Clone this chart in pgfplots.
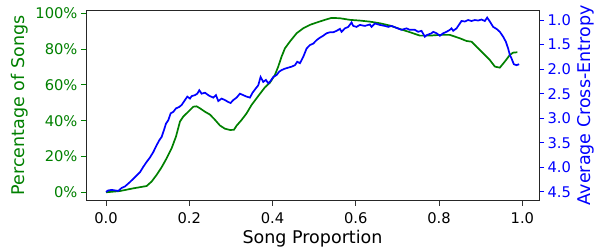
\documentclass[border=0pt]{standalone}
\usepackage{fontspec}
\setmainfont{DejaVu Sans}
\usepackage{pgfplots}
\pgfplotsset{compat=1.18}
\definecolor{mplgreen}{rgb}{0,0.5,0}
\definecolor{mplblue}{rgb}{0,0,1}
\begin{document}
\begin{tikzpicture}
\path[use as bounding box] (-86pt,-46.3pt) rectangle (509pt,200.7pt);
\begin{axis}[
  at={(0pt,0pt)}, anchor=south west,
  scale only axis, width=453pt, height=190.7pt,
  xmin=-0.048, xmax=1.04, ymin=-4.7, ymax=101.8,
  xtick={0,0.2,0.4,0.6,0.8,1.0},
  xticklabels={0.0,0.2,0.4,0.6,0.8,1.0},
  ytick={0,20,40,60,80,100},
  yticklabels={0\%,20\%,40\%,60\%,80\%,100\%},
  xtick pos=left, ytick pos=left,
  tick align=outside, major tick length=5pt,
  ytick style={color=mplgreen, line width=0.9pt},
  xtick style={color=black!80, line width=0.9pt},
  axis line style={black!85, line width=0.9pt},
  tick label style={font=\fontsize{14.7}{17}\selectfont},
  xticklabel style={yshift=-3pt},
  yticklabel style={color=mplgreen},
  xlabel={Song Proportion},
  ylabel={Percentage of Songs},
  label style={font=\fontsize{17.5}{21}\selectfont},
  ylabel style={color=mplgreen},
]
\addplot[mplgreen, line width=1.7pt] coordinates {
(0,0.0) (0.0336,0.7) (0.0656,2.2) (0.0976,3.5) (0.1096,6.0) (0.1216,9.7)
(0.1337,14.0) (0.1457,19.0) (0.1577,24.6) (0.1681,31.1) (0.1777,39.5)
(0.1857,42.3) (0.1977,45.0) (0.2097,47.8) (0.2177,48.0) (0.2257,46.9)
(0.2377,45.0) (0.2497,43.4) (0.2617,40.5) (0.2737,37.3) (0.2857,35.5)
(0.2977,34.8) (0.3073,34.9) (0.3137,37.2) (0.3257,40.4) (0.3377,44.1)
(0.3497,48.8) (0.3617,52.5) (0.3737,56.2) (0.3817,58.6) (0.3937,61.2)
(0.4057,65.5) (0.4137,70.2) (0.4218,75.8) (0.4298,80.4) (0.4418,84.2)
(0.4578,88.8) (0.4738,91.6) (0.4898,93.5) (0.5058,94.8) (0.5258,96.3)
(0.5418,97.4) (0.5618,97.2) (0.5858,96.3) (0.6098,95.9) (0.6338,95.3)
(0.6578,94.4) (0.6819,93.1) (0.7059,91.2) (0.7299,89.4) (0.7539,87.5)
(0.7779,87.5) (0.8019,87.9) (0.8259,87.9) (0.8499,86.0) (0.8659,84.5)
(0.8779,84.1) (0.8899,81.3) (0.9059,77.6) (0.9219,73.9) (0.9339,70.2)
(0.9459,69.6) (0.9579,73.0) (0.9699,76.7) (0.9779,78.0) (0.9880,78.2)
};
\end{axis}
\begin{axis}[
  at={(0pt,0pt)}, anchor=south west,
  scale only axis, width=453pt, height=190.7pt,
  xmin=-0.048, xmax=1.04, ymin=0.796, ymax=4.68,
  y dir=reverse,
  axis x line=none, axis y line*=right,
  ytick={1.0,1.5,2.0,2.5,3.0,3.5,4.0,4.5},
  yticklabels={1.0,1.5,2.0,2.5,3.0,3.5,4.0,4.5},
  ytick pos=right,
  tick align=outside, major tick length=5pt,
  ytick style={color=mplblue, line width=0.9pt},
  axis line style={black!85, line width=0.9pt},
  tick label style={font=\fontsize{14.7}{17}\selectfont},
  yticklabel style={color=mplblue},
  ylabel={Average Cross-Entropy},
  label style={font=\fontsize{17.5}{21}\selectfont},
  ylabel style={color=mplblue},
]
\addplot[mplblue, line width=1.7pt] coordinates {
(0,4.50) (0.0056,4.47) (0.0136,4.46) (0.0216,4.47) (0.0296,4.48) (0.0376,4.42)
(0.0456,4.39) (0.0576,4.30) (0.0696,4.20) (0.0816,4.10) (0.0896,3.99)
(0.0976,3.89) (0.1056,3.80) (0.1136,3.69) (0.1216,3.55) (0.1280,3.45)
(0.1337,3.38) (0.1393,3.24) (0.1441,3.11) (0.1497,3.04) (0.1553,2.90)
(0.1617,2.87) (0.1681,2.80) (0.1761,2.77) (0.1817,2.73) (0.1897,2.63)
(0.1953,2.56) (0.2017,2.60) (0.2057,2.55) (0.2137,2.53) (0.2193,2.50)
(0.2241,2.43) (0.2297,2.50) (0.2377,2.48) (0.2457,2.53) (0.2497,2.55)
(0.2577,2.58) (0.2641,2.53) (0.2697,2.65) (0.2777,2.60) (0.2857,2.63)
(0.2937,2.67) (0.2993,2.69) (0.3057,2.63) (0.3137,2.58) (0.3217,2.50)
(0.3297,2.53) (0.3377,2.56) (0.3457,2.58) (0.3521,2.48) (0.3601,2.39)
(0.3657,2.33) (0.3713,2.16) (0.3777,2.26) (0.3841,2.22) (0.3898,2.29)
(0.3954,2.24) (0.4018,2.16) (0.4098,2.12) (0.4162,2.05) (0.4218,2.02)
(0.4298,1.99) (0.4378,1.97) (0.4458,1.95) (0.4538,1.92) (0.4594,1.85)
(0.4658,1.88) (0.4738,1.75) (0.4818,1.58) (0.4898,1.51) (0.4978,1.48)
(0.5058,1.41) (0.5138,1.36) (0.5218,1.32) (0.5298,1.27) (0.5378,1.25)
(0.5458,1.25) (0.5538,1.22) (0.5618,1.18) (0.5658,1.24) (0.5738,1.17)
(0.5818,1.14) (0.5898,1.05) (0.5938,1.12) (0.6018,1.14) (0.6098,1.10)
(0.6218,1.12) (0.6338,1.09) (0.6378,1.14) (0.6458,1.07) (0.6578,1.10)
(0.6698,1.12) (0.6778,1.14) (0.6858,1.12) (0.6978,1.16) (0.7098,1.20)
(0.7218,1.17) (0.7298,1.20) (0.7418,1.20) (0.7498,1.24) (0.7578,1.22)
(0.7658,1.34) (0.7698,1.31) (0.7818,1.27) (0.7859,1.24) (0.7939,1.27)
(0.8019,1.32) (0.8099,1.27) (0.8179,1.24) (0.8259,1.20) (0.8299,1.17)
(0.8339,1.22) (0.8419,1.17) (0.8499,1.07) (0.8539,1.02) (0.8619,1.03)
(0.8699,1.00) (0.8779,1.02) (0.8859,1.00) (0.8939,1.01) (0.9019,0.99)
(0.9099,1.02) (0.9155,0.95) (0.9219,1.03) (0.9299,1.14) (0.9379,1.18)
(0.9459,1.24) (0.9539,1.34) (0.9603,1.44) (0.9659,1.58) (0.9699,1.71)
(0.9739,1.78) (0.9795,1.90) (0.9859,1.92) (0.9923,1.90)
};
\end{axis}
\end{tikzpicture}
\end{document}
